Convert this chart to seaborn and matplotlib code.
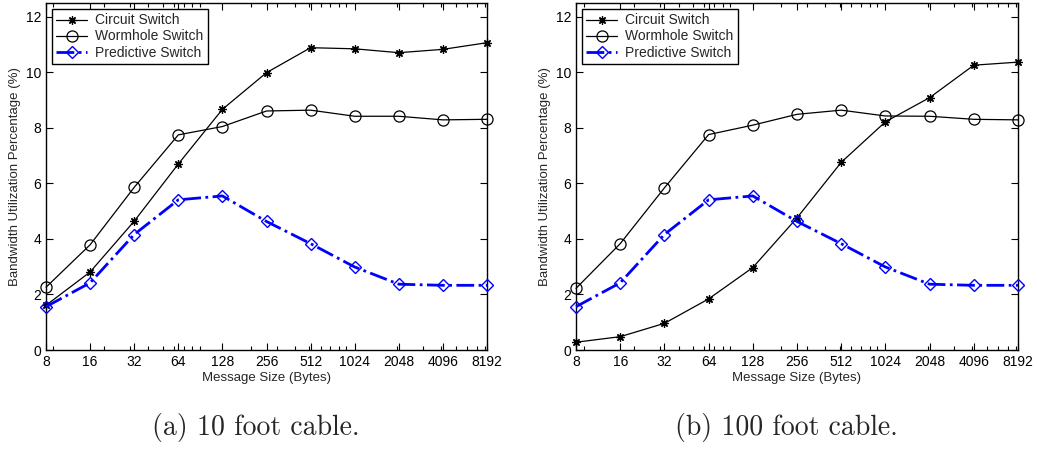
import matplotlib
matplotlib.use("Agg")
import matplotlib.pyplot as plt
import matplotlib.ticker as mticker
import seaborn as sns
import pandas as pd

sizes = [8, 16, 32, 64, 128, 256, 512, 1024, 2048, 4096, 8192]
size_labels = ["8", "16", "32", "64", "128", "256", "512", "1024", "2048", "4096", "8192"]

circuit_10ft = [1.61, 2.81, 4.64, 6.70, 8.67, 9.99, 10.89, 10.85, 10.71, 10.83, 11.07]
wormhole_10ft = [2.26, 3.79, 5.86, 7.75, 8.05, 8.61, 8.64, 8.42, 8.42, 8.29, 8.31]
predictive_10ft = [1.56, 2.42, 4.16, 5.41, 5.55, 4.63, 3.83, 2.99, 2.37, 2.33, 2.33]

circuit_100ft = [0.28, 0.48, 0.96, 1.84, 2.97, 4.76, 6.76, 8.22, 9.09, 10.26, 10.37]
wormhole_100ft = [2.22, 3.83, 5.84, 7.76, 8.10, 8.49, 8.64, 8.43, 8.42, 8.31, 8.29]
predictive_100ft = [1.56, 2.42, 4.16, 5.41, 5.55, 4.63, 3.83, 2.99, 2.37, 2.33, 2.33]

series_names = ["Circuit Switch", "Wormhole Switch", "Predictive Switch"]
captions = ["(a) 10 foot cable.", "(b) 100 foot cable."]
xlabel = "Message Size (Bytes)"
ylabel = "Bandwidth Utilization Percentage (%)"

sns.set_style("ticks")
plt.rcParams["font.family"] = ["Liberation Sans", "DejaVu Sans"]

fig = plt.figure(figsize=(10.37, 4.62), dpi=100)
W, H = 1037, 462
ax_rects = [
    [46 / W, (H - 350) / H, 441 / W, 347 / H],
    [576 / W, (H - 350) / H, 442 / W, 347 / H],
]

panels = [
    (circuit_10ft, wormhole_10ft, predictive_10ft),
    (circuit_100ft, wormhole_100ft, predictive_100ft),
]

styles = [
    dict(color="black", linestyle="-", linewidth=0.9, marker=(8, 2, 0), markersize=6,
         markeredgewidth=0.9, markeredgecolor="black"),
    dict(color="black", linestyle="-", linewidth=0.9, marker="o", markersize=8,
         markerfacecolor="none", markeredgecolor="black", markeredgewidth=0.9),
    dict(color="#0000ff", linestyle="-.", linewidth=2.0, marker="D", markersize=6,
         markerfacecolor="none", markeredgecolor="#0000ff", markeredgewidth=1.0),
]

for i, (rect, data) in enumerate(zip(ax_rects, panels)):
    ax = fig.add_axes(rect)
    for name, vals, st in zip(series_names, data, styles):
        df = pd.DataFrame({"size": sizes, "val": vals})
        sns.lineplot(data=df, x="size", y="val", ax=ax, label=name, clip_on=False,
                     zorder=3, **st)
    ax.set_xscale("log", base=2)
    ax.set_xlim(8, 8192)
    ax.set_ylim(0, 12.5)
    ax.set_xticks(sizes)
    ax.set_xticklabels(size_labels)
    ax.xaxis.set_minor_locator(mticker.LogLocator(base=10, subs=[2, 3, 4, 5, 6, 7, 8, 9]))
    ax.xaxis.set_minor_formatter(mticker.NullFormatter())
    ax.set_yticks([0, 2, 4, 6, 8, 10, 12])
    ax.tick_params(axis="both", which="both", direction="in", top=True, right=True,
                   labelsize=10, width=0.8, colors="black")
    ax.tick_params(axis="both", which="major", length=5)
    ax.tick_params(axis="x", which="minor", length=3)
    for sp in ax.spines.values():
        sp.set_visible(True)
        sp.set_linewidth(1.0)
        sp.set_color("black")
    ax.set_xlabel(xlabel, fontsize=9.5, labelpad=2)
    ax.set_ylabel(ylabel, fontsize=9.5, labelpad=3)
    leg = ax.legend(loc="upper left", fontsize=10, frameon=True, fancybox=False,
                    edgecolor="black", framealpha=1, handlelength=2.2,
                    borderpad=0.3, labelspacing=0.15, borderaxespad=0.45,
                    handletextpad=0.6)
    leg.get_frame().set_linewidth(1.0)
    cx = rect[0] + rect[2] / 2 - 0.01
    fig.text(cx, 1 - 428 / H, captions[i], ha="center", va="center",
             fontsize=20, family="cmr10")

fig.savefig("out.png", dpi=100)
